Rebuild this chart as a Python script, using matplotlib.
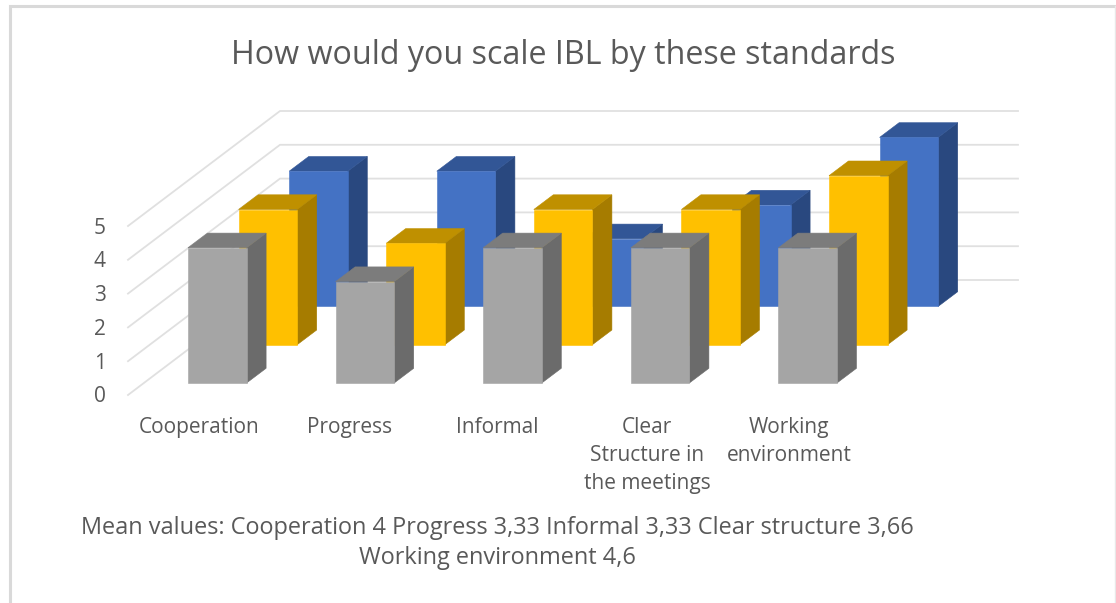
import matplotlib.pyplot as plt
from matplotlib.patches import Polygon

plt.rcParams['font.family'] = ['Open Sans', 'DejaVu Sans']

categories = ['Cooperation', 'Progress', 'Informal', 'Clear\nStructure in\nthe meetings', 'Working\nenvironment']
# back to front
blue_vals = [4, 4, 2, 3, 5]
yellow_vals = [4, 3, 4, 4, 5]
grey_vals = [4, 3, 4, 4, 4]
y_ticks = [0, 1, 2, 3, 4, 5]

title = 'How would you scale IBL by these standards'
note = 'Mean values: Cooperation 4 Progress 3,33 Informal 3,33 Clear structure 3,66\nWorking environment 4,6'

W, H = 1116, 603
TEXT = '#595959'
GRID = '#e0e0e0'

# fake 3d geometry, in pixels
X0 = 188.0      # left edge of first front bar
Y0 = 383.0      # floor of the front row
UNIT = 33.8     # one value step
STEP = 147.6    # distance between categories
BAR_W = 58.6
DEPTH_X = 19.5
DEPTH_Y = 14.7
ROW_X = 50.6    # shift between rows
ROW_Y = 38.3


def bar_3d(ax, i, row, val, front, top, side):
    x1 = X0 + i * STEP + row * ROW_X
    x2 = x1 + BAR_W
    y1 = Y0 - row * ROW_Y
    y2 = y1 - val * UNIT
    ax.add_patch(Polygon([(x2, y1), (x2 + DEPTH_X, y1 - DEPTH_Y), (x2 + DEPTH_X, y2 - DEPTH_Y), (x2, y2)], fc=side, ec=side, lw=0.4, zorder=3))
    ax.add_patch(Polygon([(x1, y2), (x2, y2), (x2 + DEPTH_X, y2 - DEPTH_Y), (x1 + DEPTH_X, y2 - DEPTH_Y)], fc=top, ec=top, lw=0.4, zorder=3))
    ax.add_patch(Polygon([(x1, y1), (x2, y1), (x2, y2), (x1, y2)], fc=front, ec=front, lw=0.4, zorder=3))


fig = plt.figure(figsize=(W / 100, H / 100), dpi=100)
ax = fig.add_axes([0, 0, 1, 1])
ax.set_xlim(0, W)
ax.set_ylim(H, 0)
ax.axis('off')

# outer frame
ax.plot([9.5, 9.5, 1115], [H, 6, 6], color='#d9d9d9', lw=2.2, solid_joinstyle='miter', zorder=1)
ax.plot([1115, 1115], [6, H], color='#e8e8e8', lw=1, zorder=1)

# walls
for v in y_ticks:
    y_front = 395 - v * UNIT
    y_back = 280 - v * UNIT
    ax.plot([128, 280, 1018], [y_front, y_back, y_back], color=GRID, lw=1.3, zorder=2)
    ax.text(100, y_front + 2, str(v), color=TEXT, fontsize=15, ha='center', va='center')

for i in range(len(categories)):
    bar_3d(ax, i, 2, blue_vals[i], '#4472c4', '#325696', '#29487f')
for i in range(len(categories)):
    bar_3d(ax, i, 1, yellow_vals[i], '#ffc000', '#bf9000', '#a67c00')
for i in range(len(categories)):
    bar_3d(ax, i, 0, grey_vals[i], '#a5a5a5', '#7c7c7c', '#6b6b6b')

label_x = [199, 350, 497, 647, 789]
for x, c in zip(label_x, categories):
    ax.text(x, 417, c, color=TEXT, fontsize=15, ha='center', va='top', linespacing=1.45)

ax.text(563, 55, title, color=TEXT, fontsize=23.2, ha='center', va='center')
ax.text(497, 543, note, color=TEXT, fontsize=16.9, ha='center', va='center', linespacing=1.33, multialignment='center')

fig.savefig('out.png', dpi=100)
